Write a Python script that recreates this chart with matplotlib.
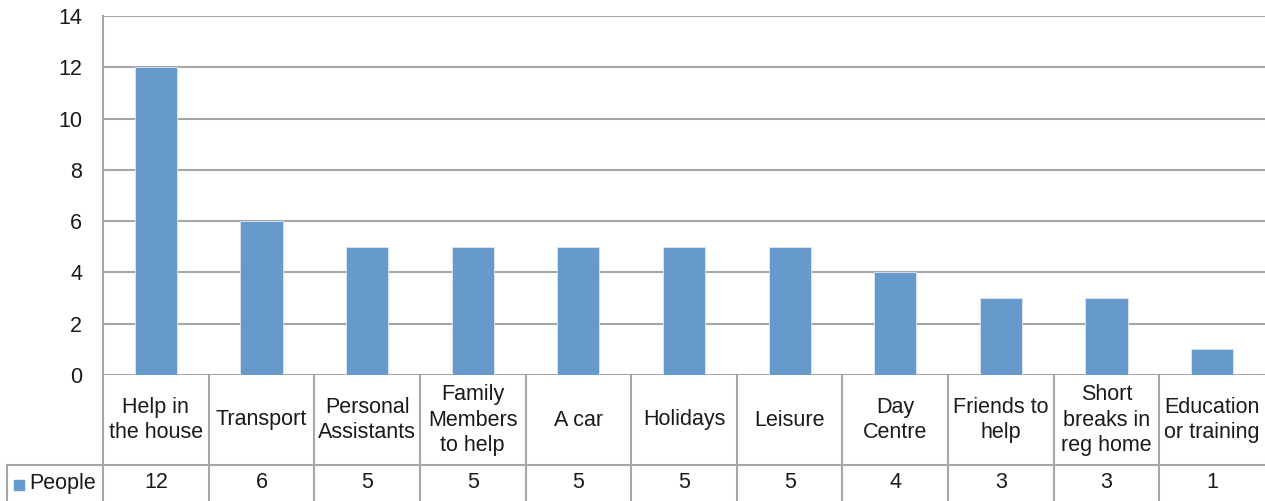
import numpy as np
import matplotlib.pyplot as plt
from matplotlib.transforms import blended_transform_factory

plt.rcParams['font.family'] = ['Liberation Sans', 'DejaVu Sans']

# Data
categories = ['Help in\nthe house', 'Transport', 'Personal\nAssistants', 'Family\nMembers\nto help',
              'A car', 'Holidays', 'Leisure', 'Day\nCentre', 'Friends to\nhelp',
              'Short\nbreaks in\nreg home', 'Education\nor training']
people = [12, 6, 5, 5, 5, 5, 5, 4, 3, 3, 1]
series_name = 'People'

bar_color = '#6699CC'
grid_color = '#A6A6A6'
text_color = '#1A1A1A'
fs = 15.5

W, H = 1265, 501
fig = plt.figure(figsize=(W / 100, H / 100), dpi=100)

# plot area in pixels
left, right, top, zero = 103, 1265, 16, 375
ax = fig.add_axes([left / W, (H - zero) / H, (right - left) / W, (zero - top) / H])

x = np.arange(len(categories))
ax.bar(x, people, width=0.4, color=bar_color, edgecolor='#DCE6F2', linewidth=0.6, zorder=3)
ax.set_xlim(-0.5, len(categories) - 0.5)
ax.set_ylim(0, 14)
ax.set_yticks(range(0, 15, 2))
ax.yaxis.grid(True, color=grid_color, linewidth=1.5)
ax.set_axisbelow(True)
ax.set_xticks([])
ax.tick_params(axis='y', length=0, pad=15, labelsize=fs, labelcolor=text_color)
for side in ['top', 'right', 'bottom']:
    ax.spines[side].set_visible(False)
ax.spines['left'].set_color(grid_color)
ax.spines['left'].set_linewidth(1.5)

# data table underneath
tr = blended_transform_factory(ax.transData, fig.transFigure)
y_top = (H - zero) / H
y_mid = (H - 465) / H
legend_left = 7

for i in range(len(categories)):
    fig.add_artist(plt.Line2D([i - 0.5, i - 0.5], [0, y_top], transform=tr,
                              color=grid_color, linewidth=1.5))
fig.add_artist(plt.Line2D([legend_left / W, 1], [y_mid, y_mid], transform=fig.transFigure,
                          color=grid_color, linewidth=1.5))
fig.add_artist(plt.Line2D([legend_left / W, legend_left / W], [0, y_mid], transform=fig.transFigure,
                          color=grid_color, linewidth=1.5))

for i, (cat, val) in enumerate(zip(categories, people)):
    fig.text(i, (y_top + y_mid) / 2, cat, transform=tr, ha='center', va='center',
             fontsize=fs, color=text_color, linespacing=1.3)
    fig.text(i, y_mid / 2, str(val), transform=tr, ha='center', va='center',
             fontsize=fs, color=text_color)

# legend key
fig.patches.append(plt.Rectangle((14 / W, (H - 490) / H), 10 / W, 10 / H,
                                 transform=fig.transFigure, color=bar_color))
fig.text(29 / W, y_mid / 2, series_name, ha='left', va='center', fontsize=fs, color=text_color)

plt.savefig('out.png', dpi=100)
